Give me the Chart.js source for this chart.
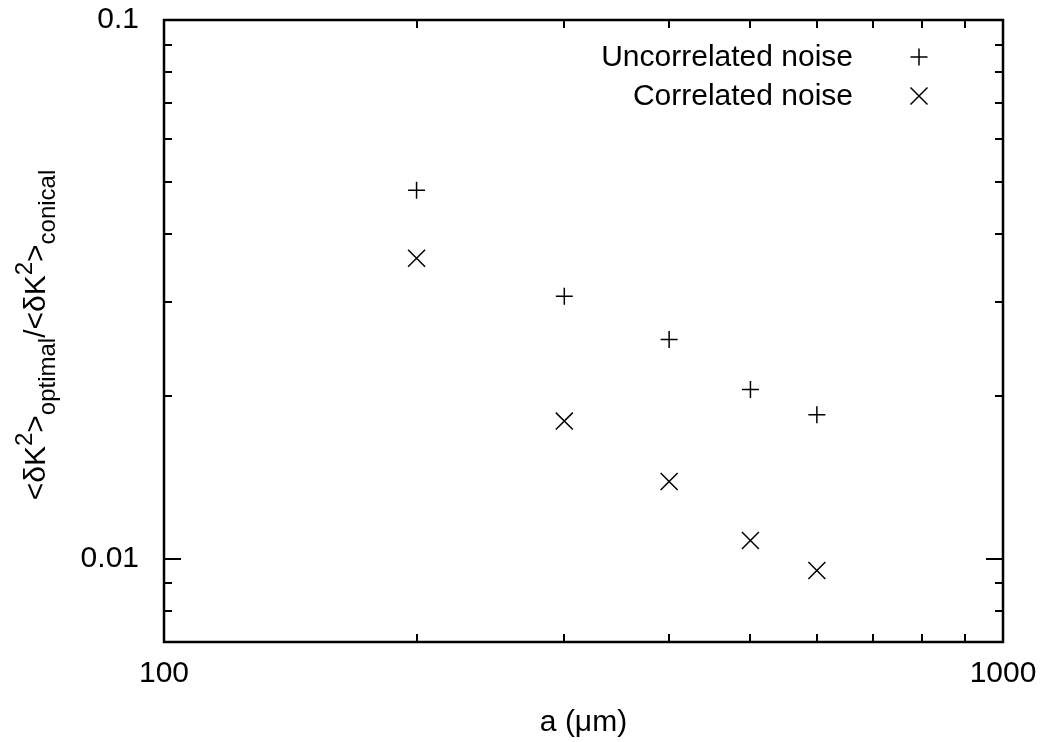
<!DOCTYPE html>
<html>
<head>
<meta charset="utf-8">
<script src="https://cdn.jsdelivr.net/npm/chart.js@4/dist/chart.umd.min.js"></script>
<style>
  html, body { margin: 0; padding: 0; background: #ffffff; }
  #wrap { width: 1044px; height: 742px; }
</style>
</head>
<body>
<div id="wrap"><canvas id="c" width="1044" height="742"></canvas></div>
<script>
// Aperture radius a (µm) and the ratio of optimal to conical error
const apertures = [200, 300, 400, 500, 600];
const uncorrelated = [0.0483, 0.0307, 0.0255, 0.0206, 0.0185];
const correlated = [0.0361, 0.0180, 0.0139, 0.0108, 0.0095];
const seriesNames = ['Uncorrelated noise', 'Correlated noise'];

// Axis ranges, tick positions and labelled ticks
const xRange = [100, 1000];
const yRange = [0.007, 0.1];
const xTicks = [100, 200, 300, 400, 500, 600, 700, 800, 900, 1000];
const xMajor = [100, 1000];
const xMajorLabels = ['100', '1000'];
const yTicks = [0.007, 0.008, 0.009, 0.01, 0.02, 0.03, 0.04, 0.05, 0.06, 0.07, 0.08, 0.09, 0.1];
const yMajor = [0.01, 0.1];
const yMajorLabels = ['0.01', '0.1'];
const xTitle = 'a (\u03bcm)';

const FONT = '"Liberation Sans", Arial, Helvetica, sans-serif';
const FS = 30;

function toPoints(ys) { return apertures.map((a, i) => ({ x: a, y: ys[i] })); }
function labelFor(v, majors, labels) {
  const i = majors.findIndex(m => Math.abs(m - v) / m < 1e-9);
  return i >= 0 ? labels[i] : '';
}
function isMajor(v, majors) { return majors.some(m => Math.abs(m - v) / m < 1e-9); }

const markerStyles = [
  { pointStyle: 'cross', radius: 8.5 },
  { pointStyle: 'crossRot', radius: 12 }
];

// Frame, inward tick marks on all four sides, y-axis title and key
const framePlugin = {
  id: 'frame',
  afterDatasetsDraw(chart) {
    const ctx = chart.ctx;
    const { left, right, top, bottom } = chart.chartArea;
    const xs = chart.scales.x, ys = chart.scales.y;
    ctx.save();
    ctx.strokeStyle = '#000';
    ctx.lineCap = 'butt';

    // tick marks
    ctx.lineWidth = 2;
    ctx.beginPath();
    xTicks.forEach(v => {
      const px = Math.round(xs.getPixelForValue(v));
      const len = isMajor(v, xMajor) ? 17 : 8;
      ctx.moveTo(px, bottom); ctx.lineTo(px, bottom - len);
      ctx.moveTo(px, top); ctx.lineTo(px, top + len);
    });
    yTicks.forEach(v => {
      const py = Math.round(ys.getPixelForValue(v));
      const len = isMajor(v, yMajor) ? 17 : 8;
      ctx.moveTo(left, py); ctx.lineTo(left + len, py);
      ctx.moveTo(right, py); ctx.lineTo(right - len, py);
    });
    ctx.stroke();

    // border
    ctx.lineWidth = 2.5;
    ctx.strokeRect(left, top, right - left, bottom - top);

    // y-axis title with super- and subscripts
    const parts = [
      { t: '<\u03b4K', k: 'n' }, { t: '2', k: 'sup' }, { t: '>', k: 'n' }, { t: 'optimal', k: 'sub' },
      { t: '/<\u03b4K', k: 'n' }, { t: '2', k: 'sup' }, { t: '>', k: 'n' }, { t: 'conical', k: 'sub' }
    ];
    const small = Math.round(FS * 0.8);
    const fontOf = k => (k === 'n' ? FS : small) + 'px ' + FONT;
    let total = 0;
    parts.forEach(p => { ctx.font = fontOf(p.k); p.w = ctx.measureText(p.t).width; total += p.w; });
    ctx.translate(45, (top + bottom) / 2 + 4);
    ctx.rotate(-Math.PI / 2);
    ctx.fillStyle = '#000';
    ctx.textBaseline = 'alphabetic';
    ctx.textAlign = 'left';
    let cx = -total / 2;
    parts.forEach(p => {
      ctx.font = fontOf(p.k);
      const dy = p.k === 'sup' ? -13 : (p.k === 'sub' ? 10 : 0);
      ctx.fillText(p.t, cx, dy);
      cx += p.w;
    });
    ctx.restore();

    // key: text right-aligned, marker to its right
    ctx.save();
    ctx.font = FS + 'px ' + FONT;
    ctx.fillStyle = '#000';
    ctx.textAlign = 'right';
    ctx.textBaseline = 'middle';
    const keyRows = [57, 96];
    chart.data.datasets.forEach((ds, i) => {
      const y = keyRows[i];
      ctx.fillText(ds.label, 853, y + 1);
      ctx.strokeStyle = '#000';
      ctx.lineWidth = 1.5;
      Chart.helpers.drawPoint(ctx, { pointStyle: markerStyles[i].pointStyle, radius: markerStyles[i].radius, rotation: 0, borderWidth: 1.5 }, 919, y);
    });
    ctx.restore();
  }
};

const datasets = [uncorrelated, correlated].map((vals, i) => ({
  label: seriesNames[i],
  data: toPoints(vals),
  showLine: false,
  pointStyle: markerStyles[i].pointStyle,
  pointRadius: markerStyles[i].radius,
  pointBorderWidth: 1.5,
  pointBorderColor: '#000',
  pointBackgroundColor: '#000'
}));

new Chart(document.getElementById('c'), {
  type: 'scatter',
  data: { datasets },
  plugins: [framePlugin],
  options: {
    responsive: false,
    animation: false,
    devicePixelRatio: 1,
    events: [],
    layout: { padding: { top: 20, right: 41, bottom: 0, left: 0 } },
    plugins: { legend: { display: false }, tooltip: { enabled: false } },
    scales: {
      x: {
        type: 'logarithmic',
        min: xRange[0], max: xRange[1],
        grid: { display: false, drawTicks: false },
        border: { display: false },
        afterBuildTicks: s => { s.ticks = xTicks.map(v => ({ value: v, major: isMajor(v, xMajor) })); },
        afterFit: s => { s.height = 100; s.paddingLeft = 0; s.paddingRight = 0; s.paddingTop = 0; s.paddingBottom = 0; },
        ticks: {
          autoSkip: false, maxRotation: 0, minRotation: 0, padding: 14,
          color: '#000', font: { family: FONT, size: FS },
          callback: v => labelFor(v, xMajor, xMajorLabels)
        },
        title: { display: true, text: xTitle, color: '#000', font: { family: FONT, size: FS }, padding: { top: 0, bottom: 1 } }
      },
      y: {
        type: 'logarithmic',
        min: yRange[0], max: yRange[1],
        grid: { display: false, drawTicks: false },
        border: { display: false },
        afterBuildTicks: s => { s.ticks = yTicks.map(v => ({ value: v, major: isMajor(v, yMajor) })); },
        afterFit: s => { s.width = 164; s.paddingLeft = 0; s.paddingRight = 0; s.paddingTop = 0; s.paddingBottom = 0; },
        ticks: {
          autoSkip: false, padding: 25,
          color: '#000', font: { family: FONT, size: FS },
          callback: v => labelFor(v, yMajor, yMajorLabels)
        }
      }
    }
  }
});
</script>
</body>
</html>
